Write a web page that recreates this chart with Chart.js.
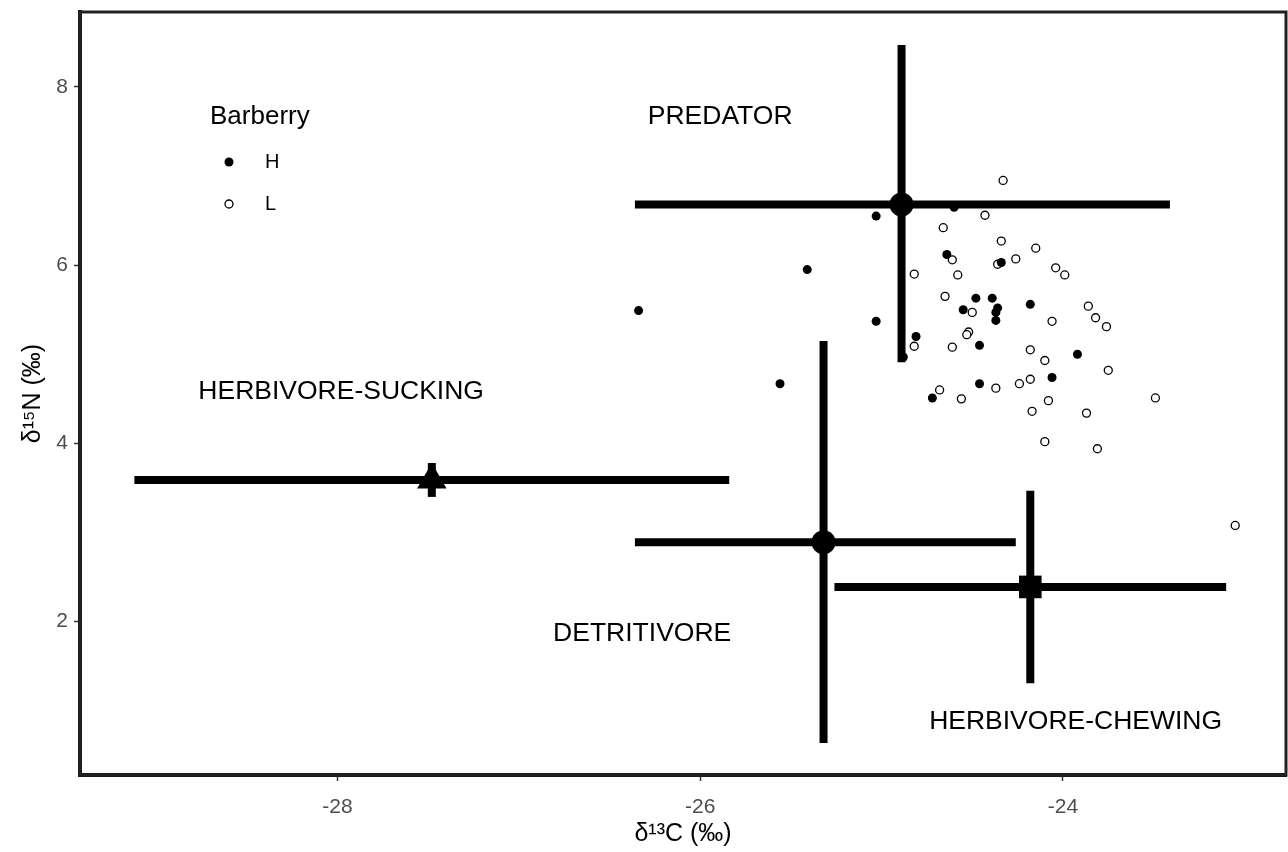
<!DOCTYPE html>
<html>
<head>
<meta charset="utf-8">
<script src="https://cdn.jsdelivr.net/npm/chart.js@4.4.1/dist/chart.umd.min.js"></script>
<style>
  body { margin: 0; background: #fff; }
</style>
</head>
<body>
<canvas id="iso-chart" width="1288" height="852"></canvas>
<script>
// axis ticks
var xTicks = [-28, -26, -24];
var yTicks = [2, 4, 6, 8];

// Barberry H (filled points)
var highC = [-26.34, -25.56, -25.41, -25.03, -25.03, -24.88, -24.81, -24.72, -24.64, -24.60, -24.34,
             -24.48, -24.39, -24.55, -24.36, -24.37, -24.37, -24.18, -24.46, -23.92, -24.06, -24.46];
var highN = [5.49, 4.67, 5.95, 6.55, 5.37, 4.97, 5.20, 4.51, 6.12, 6.65, 6.03,
             5.63, 5.63, 5.50, 5.52, 5.47, 5.38, 5.56, 5.10, 5.00, 4.74, 4.67];

// Barberry L (open points)
var lowC = [-24.33, -24.43, -24.66, -24.34, -24.15, -24.61, -24.26, -24.36, -24.82, -24.58, -24.04,
            -23.99, -24.65, -24.50, -24.06, -23.86, -23.82, -23.76, -24.52, -24.53, -24.82, -24.61,
            -24.18, -24.10, -23.75, -24.18, -24.24, -24.37, -24.68, -24.56, -24.08, -23.49, -24.17,
            -23.87, -24.10, -23.81, -23.05];
var lowN = [6.95, 6.56, 6.42, 6.27, 6.19, 6.06, 6.07, 6.01, 5.90, 5.89, 5.97,
            5.89, 5.65, 5.47, 5.37, 5.54, 5.41, 5.31, 5.25, 5.22, 5.09, 5.08,
            5.05, 4.93, 4.82, 4.72, 4.67, 4.62, 4.60, 4.50, 4.48, 4.51, 4.36,
            4.34, 4.02, 3.94, 3.08];

// feeding-group means and ranges
var groups = ['PREDATOR', 'HERBIVORE-SUCKING', 'DETRITIVORE', 'HERBIVORE-CHEWING'];
var groupC = [-24.89, -27.48, -25.32, -24.18];
var groupN = [6.68, 3.59, 2.89, 2.39];
var cMin = [-26.36, -29.12, -26.36, -25.26];
var cMax = [-23.41, -25.84, -24.26, -23.10];
var nMin = [4.91, 3.40, 0.64, 1.31];
var nMax = [8.47, 3.78, 5.15, 3.47];

// where the group names sit, in axis units
var labelC = [-25.89, -27.98, -26.32, -23.93];
var labelN = [7.66, 4.58, 1.87, 0.88];

var markerStyle = {
  'PREDATOR': ['circle', 12],
  'HERBIVORE-SUCKING': ['triangle', 17],
  'DETRITIVORE': ['circle', 12],
  'HERBIVORE-CHEWING': ['rect', 16]
};

Chart.defaults.font.family = '"Liberation Sans", Arial, sans-serif';

function pairs(xs, ys) {
  return xs.map(function(x, i) { return { x: x, y: ys[i] }; });
}

var datasets = [
  {
    label: 'H',
    data: pairs(highC, highN),
    pointRadius: 4.5,
    pointBackgroundColor: '#000',
    pointBorderColor: '#000',
    pointBorderWidth: 0,
    order: 2
  },
  {
    label: 'L',
    data: pairs(lowC, lowN),
    pointRadius: 4,
    pointBackgroundColor: '#fff',
    pointBorderColor: '#000',
    pointBorderWidth: 1.3,
    order: 2
  }
];

groups.forEach(function(g, i) {
  datasets.push({
    label: g + ' C range',
    data: [{ x: cMin[i], y: groupN[i] }, { x: cMax[i], y: groupN[i] }],
    showLine: true,
    borderColor: '#000',
    borderWidth: 8,
    borderCapStyle: 'butt',
    pointRadius: 0,
    order: 1
  });
  datasets.push({
    label: g + ' N range',
    data: [{ x: groupC[i], y: nMin[i] }, { x: groupC[i], y: nMax[i] }],
    showLine: true,
    borderColor: '#000',
    borderWidth: 8,
    borderCapStyle: 'butt',
    pointRadius: 0,
    order: 1
  });
  datasets.push({
    label: g,
    data: [{ x: groupC[i], y: groupN[i] }],
    pointStyle: markerStyle[g][0],
    pointRadius: markerStyle[g][1],
    pointBackgroundColor: '#000',
    pointBorderColor: '#000',
    pointBorderWidth: 0,
    order: 0
  });
});

var extras = {
  id: 'extras',
  afterDatasetsDraw: function(chart) {
    var ctx = chart.ctx, xs = chart.scales.x, ys = chart.scales.y, a = chart.chartArea;
    ctx.save();
    ctx.fillStyle = '#000';
    ctx.textAlign = 'center';
    ctx.textBaseline = 'middle';
    ctx.font = '26.5px "Liberation Sans", Arial, sans-serif';
    groups.forEach(function(g, i) {
      ctx.fillText(g, xs.getPixelForValue(labelC[i]), ys.getPixelForValue(labelN[i]));
    });

    // panel frame
    ctx.lineWidth = 3;
    ctx.strokeStyle = '#222';
    ctx.strokeRect(a.left, a.top, a.right - a.left, a.bottom - a.top);

    // legend inside the panel
    ctx.textAlign = 'left';
    ctx.font = '26px "Liberation Sans", Arial, sans-serif';
    ctx.fillText('Barberry', a.left + 130, a.top + 105);
    ctx.font = '20px "Liberation Sans", Arial, sans-serif';
    ctx.fillText('H', a.left + 185, a.top + 150);
    ctx.fillText('L', a.left + 185, a.top + 192);
    ctx.beginPath();
    ctx.arc(a.left + 149, a.top + 150, 4.5, 0, Math.PI * 2);
    ctx.fill();
    ctx.beginPath();
    ctx.arc(a.left + 149, a.top + 192, 4, 0, Math.PI * 2);
    ctx.fillStyle = '#fff';
    ctx.fill();
    ctx.lineWidth = 1.3;
    ctx.strokeStyle = '#000';
    ctx.stroke();
    ctx.restore();
  }
};

var ctx = document.getElementById('iso-chart');
var isoChart = new Chart(ctx, {
  type: 'scatter',
  data: { datasets: datasets },
  options: {
    responsive: false,
    animation: false,
    layout: { autoPadding: false, padding: { top: 12, right: 2, left: 0, bottom: 0 } },
    plugins: {
      legend: { display: false },
      tooltip: { enabled: false }
    },
    scales: {
      x: {
        min: -29.42,
        max: -22.77,
        afterBuildTicks: function(axis) {
          axis.ticks = xTicks.map(function(v) { return { value: v }; });
        },
        afterFit: function(axis) {
          axis.height = 77;
          axis.paddingLeft = 0;
          axis.paddingRight = 0;
        },
        grid: { display: true, drawOnChartArea: false, drawTicks: true, tickLength: 6, tickColor: '#333', tickWidth: 1.5 },
        border: { display: true, color: '#111', width: 4 },
        ticks: { color: '#4d4d4d', font: { size: 21 }, padding: 14, maxRotation: 0 },
        title: { display: true, text: 'δ¹³C (‰)', color: '#000', font: { size: 25 }, padding: { top: 0, bottom: 3 } }
      },
      y: {
        min: 0.28,
        max: 8.84,
        afterBuildTicks: function(axis) {
          axis.ticks = yTicks.map(function(v) { return { value: v }; });
        },
        afterFit: function(axis) {
          axis.width = 80;
          axis.paddingTop = 0;
          axis.paddingBottom = 0;
        },
        grid: { display: true, drawOnChartArea: false, drawTicks: true, tickLength: 6, tickColor: '#333', tickWidth: 1.5 },
        border: { display: true, color: '#111', width: 4 },
        ticks: { color: '#4d4d4d', font: { size: 21 }, padding: 6 },
        title: { display: true, text: 'δ¹⁵N (‰)', color: '#000', font: { size: 25 }, padding: { top: 18, bottom: 0 } }
      }
    }
  },
  plugins: [extras]
});
</script>
</body>
</html>
